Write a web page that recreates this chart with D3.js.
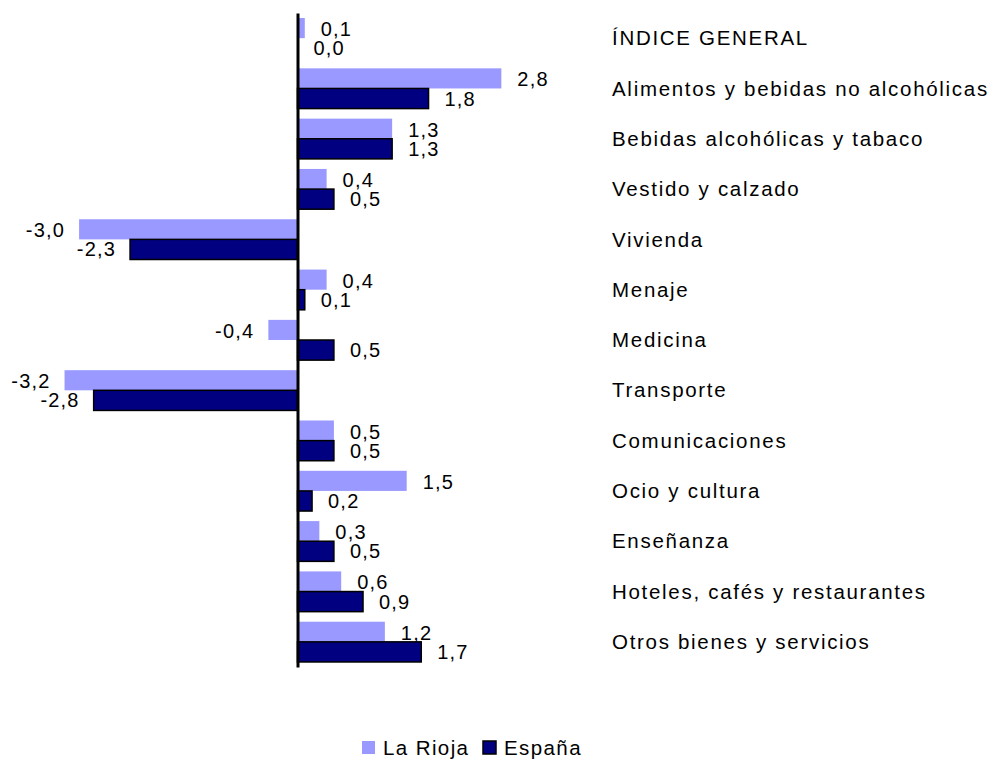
<!DOCTYPE html>
<html>
<head>
<meta charset="utf-8">
<script src="https://cdn.jsdelivr.net/npm/d3@7"></script>
<style>
  body { margin: 0; background: #fff; }
  text { font-family: "Liberation Sans", Arial, Helvetica, sans-serif; fill: #000; }
</style>
</head>
<body>
<script>

// categories and values (variación anual, %)
var categories = ["ÍNDICE GENERAL", "Alimentos y bebidas no alcohólicas", "Bebidas alcohólicas y tabaco",
  "Vestido y calzado", "Vivienda", "Menaje", "Medicina", "Transporte", "Comunicaciones",
  "Ocio y cultura", "Enseñanza", "Hoteles, cafés y restaurantes", "Otros bienes y servicios"];
var seriesNames = ["La Rioja", "España"];
var laRioja = [0.1, 2.8, 1.3, 0.4, -3.0, 0.4, -0.4, -3.2, 0.5, 1.5, 0.3, 0.6, 1.2];
var espana  = [0.0, 1.8, 1.3, 0.5, -2.3, 0.1, 0.5, -2.8, 0.5, 0.2, 0.5, 0.9, 1.7];
var colors = ["#9999ff", "#000080"];

var width = 994, height = 760;

// spanish number format: comma decimal, plain hyphen
var locale = d3.formatLocale({decimal: ",", thousands: ".", grouping: [3], currency: ["", " €"], minus: "-"});
var format = locale.format(".1f");

var svg = d3.select("body").append("svg")
    .attr("width", width)
    .attr("height", height);

// scales
var x = d3.scaleLinear().domain([-4, 4]).range([6.3, 588.7]);
var y = d3.scaleBand().domain(categories).range([13, 667]).paddingInner(0.2).paddingOuter(0.1);
var ySub = d3.scaleBand().domain(seriesNames).range([0, y.bandwidth()]);

// table built from the arrays
var rows = categories.map(function(c, i) {
  return {cat: c, values: [laRioja[i], espana[i]]};
});

var groups = svg.append("g").selectAll("g")
    .data(rows)
  .enter().append("g")
    .attr("transform", function(d) { return "translate(0," + y(d.cat) + ")"; });

groups.selectAll("rect")
    .data(function(d) { return d.values.map(function(v, j) { return {s: seriesNames[j], v: v, j: j}; }); })
  .enter().append("rect")
    .attr("x", function(d) { return x(Math.min(0, d.v)); })
    .attr("y", function(d) { return ySub(d.s); })
    .attr("width", function(d) { return Math.abs(x(d.v) - x(0)); })
    .attr("height", ySub.bandwidth())
    .style("fill", function(d) { return colors[d.j]; })
    .style("stroke", function(d) { return d.j == 1 ? "#000" : "none"; })
    .style("stroke-width", 1.5);

// value labels
groups.selectAll("text.val")
    .data(function(d) { return d.values.map(function(v, j) { return {s: seriesNames[j], v: v, j: j}; }); })
  .enter().append("text")
    .attr("class", "val")
    .attr("x", function(d) { return d.v < 0 ? x(d.v) - 14 : x(d.v) + 16; })
    .attr("y", function(d) { return ySub(d.s) + ySub.bandwidth() / 2 + (d.j == 0 ? 1 : 0); })
    .attr("dy", "0.35em")
    .attr("text-anchor", function(d) { return d.v < 0 ? "end" : "start"; })
    .style("font-size", "20px")
    .style("letter-spacing", "1.2px")
    .text(function(d) { return format(d.v); });

// category names on the right
svg.append("g").selectAll("text")
    .data(categories)
  .enter().append("text")
    .attr("x", 612)
    .attr("y", function(d) { return y(d) + y.bandwidth() / 2; })
    .attr("dy", "0.35em")
    .style("font-size", "20.5px")
    .style("letter-spacing", "1.7px")
    .text(function(d) { return d; });

// vertical axis at zero
var axis = svg.append("g")
    .attr("transform", "translate(" + x(0) + ",0)")
    .call(d3.axisLeft(y).tickSize(0).tickFormat(""));
axis.select(".domain").style("stroke", "#000").style("stroke-width", 3);

// legend
var legend = svg.append("g").selectAll("g")
    .data(seriesNames)
  .enter().append("g")
    .attr("transform", function(d, i) { return "translate(" + [362, 483][i] + ",741)"; });

legend.append("rect")
    .attr("width", 13)
    .attr("height", 13)
    .style("fill", function(d, i) { return colors[i]; })
    .style("stroke", function(d, i) { return i == 1 ? "#000" : "none"; })
    .style("stroke-width", 1.5);

legend.append("text")
    .attr("x", 21)
    .attr("y", 6.5)
    .attr("dy", "0.35em")
    .style("font-size", "20.5px")
    .style("letter-spacing", "1.4px")
    .text(function(d) { return d; });

</script>
</body>
</html>
